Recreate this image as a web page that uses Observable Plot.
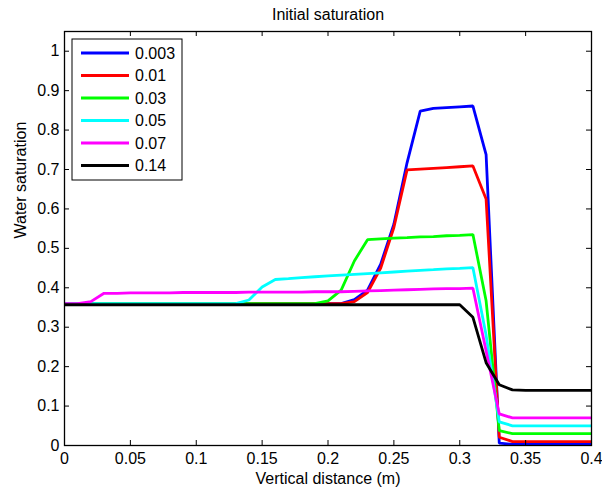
<!DOCTYPE html>
<html>
<head>
<meta charset="utf-8">
<script src="https://cdn.jsdelivr.net/npm/d3@7"></script>
<script src="https://cdn.jsdelivr.net/npm/@observablehq/plot@0.6"></script>
<style>
  html, body { margin: 0; padding: 0; background: #fff; }
</style>
</head>
<body>
<div id="chart"></div>
<script>
const distance = [0.00,0.01,0.02,0.03,0.04,0.05,0.06,0.07,0.08,0.09,0.10,0.11,0.12,0.13,0.14,0.15,0.16,0.17,0.18,0.19,0.20,0.21,0.22,0.23,0.24,0.25,0.26,0.27,0.28,0.29,0.30,0.31,0.32,0.33,0.34,0.35,0.36,0.37,0.38,0.39,0.40];

const seriesNames = ["0.003", "0.01", "0.03", "0.05", "0.07", "0.14"];
const seriesColors = ["#0000ff", "#ff0000", "#00ff00", "#00ffff", "#ff00ff", "#000000"];

const s0003 = [0.36,0.36,0.36,0.36,0.36,0.36,0.36,0.36,0.36,0.36,0.36,0.36,0.36,0.36,0.36,0.36,0.36,0.36,0.36,0.36,0.36,0.36,0.37,0.394,0.46,0.561,0.717,0.848,0.855,0.857,0.859,0.861,0.738,0.006,0.003,0.003,0.003,0.003,0.003,0.003,0.003];
const s001 = [0.36,0.36,0.36,0.36,0.36,0.36,0.36,0.36,0.36,0.36,0.36,0.36,0.36,0.36,0.36,0.36,0.36,0.36,0.36,0.36,0.36,0.36,0.365,0.388,0.45,0.553,0.699,0.701,0.703,0.705,0.707,0.709,0.625,0.021,0.01,0.01,0.01,0.01,0.01,0.01,0.01];
const s003 = [0.36,0.36,0.36,0.36,0.36,0.36,0.36,0.36,0.36,0.36,0.36,0.36,0.36,0.36,0.36,0.36,0.36,0.36,0.36,0.36,0.367,0.394,0.468,0.522,0.524,0.526,0.527,0.529,0.530,0.532,0.533,0.535,0.367,0.038,0.03,0.03,0.03,0.03,0.03,0.03,0.03];
const s005 = [0.36,0.36,0.36,0.36,0.36,0.36,0.36,0.36,0.36,0.36,0.36,0.36,0.36,0.36,0.369,0.402,0.421,0.423,0.426,0.428,0.430,0.432,0.434,0.436,0.438,0.440,0.442,0.444,0.446,0.448,0.449,0.451,0.28,0.06,0.05,0.05,0.05,0.05,0.05,0.05,0.05];
const s007 = [0.36,0.36,0.365,0.386,0.386,0.387,0.387,0.387,0.387,0.388,0.388,0.388,0.388,0.388,0.389,0.389,0.389,0.389,0.389,0.390,0.390,0.390,0.391,0.392,0.393,0.394,0.395,0.396,0.397,0.398,0.398,0.399,0.24,0.08,0.07,0.07,0.07,0.07,0.07,0.07,0.07];
const s014 = [0.357,0.357,0.357,0.357,0.357,0.357,0.357,0.357,0.357,0.357,0.357,0.357,0.357,0.357,0.357,0.357,0.357,0.357,0.357,0.357,0.357,0.357,0.357,0.357,0.357,0.357,0.357,0.357,0.357,0.357,0.357,0.325,0.21,0.154,0.141,0.14,0.14,0.14,0.14,0.14,0.14];

const xTicks = [0,0.05,0.1,0.15,0.2,0.25,0.3,0.35,0.4];
const yTicks = [0,0.1,0.2,0.3,0.4,0.5,0.6,0.7,0.8,0.9,1];

const titleText = "Initial saturation";
const xLabel = "Vertical distance (m)";
const yLabel = "Water saturation";

const allSeries = [s0003, s001, s003, s005, s007, s014];
const rows = [];
allSeries.forEach((vals, k) => {
  vals.forEach((v, i) => rows.push({x: distance[i], y: v, s: seriesNames[k]}));
});

const W = 602, H = 493;
const mL = 64, mR = 11, mT = 31, mB = 48;
const fw = W - mL - mR, fh = H - mT - mB;
const tick = 5;
const font = "'Liberation Sans', Arial, Helvetica, sans-serif";
const fs = 16;
const fmt = d => String(+d.toFixed(2));

const plot = Plot.plot({
  width: W,
  height: H,
  marginLeft: mL,
  marginRight: mR,
  marginTop: mT,
  marginBottom: mB,
  style: {fontFamily: font, fontSize: fs + "px", color: "#000", background: "#fff"},
  x: {domain: [0, 0.4]},
  y: {domain: [0, 1.05]},
  color: {domain: seriesNames, range: seriesColors},
  marks: [
    Plot.line(rows, {x: "x", y: "y", z: "s", stroke: "s", strokeWidth: 2.8, strokeLinejoin: "miter", strokeLinecap: "butt"}),
    Plot.tickX(xTicks, {x: d => d, insetTop: fh - tick, stroke: "#000", strokeWidth: 1}),
    Plot.tickX(xTicks, {x: d => d, insetBottom: fh - tick, stroke: "#000", strokeWidth: 1}),
    Plot.tickY(yTicks, {y: d => d, insetRight: fw - tick, stroke: "#000", strokeWidth: 1}),
    Plot.tickY(yTicks, {y: d => d, insetLeft: fw - tick, stroke: "#000", strokeWidth: 1}),
    Plot.frame({stroke: "#000", strokeWidth: 1.3}),
    Plot.axisX(xTicks, {anchor: "bottom", tickSize: 0, tickPadding: 7, tickFormat: fmt, label: null, fontSize: fs}),
    Plot.axisY(yTicks, {anchor: "left", tickSize: 0, tickPadding: 5, tickFormat: fmt, label: null, fontSize: fs}),
    Plot.text([titleText], {text: d => d, frameAnchor: "top", dy: -12, lineAnchor: "bottom", fontSize: fs, fill: "#000"}),
    Plot.text([xLabel], {text: d => d, frameAnchor: "bottom", dy: 38, lineAnchor: "bottom", fontSize: fs, fill: "#000"}),
    Plot.text([yLabel], {text: d => d, frameAnchor: "left", dx: -44, rotate: -90, lineAnchor: "middle", fontSize: fs, fill: "#000"})
  ]
});

// Legend box (top-left inside the plot)
const svg = d3.select(plot);
const lg = svg.append("g").attr("font-family", font).attr("font-size", fs).attr("text-anchor", "start");
const lx = 72, ly = 39, lw = 110, lh = 141, rowH = 22.5;
lg.append("rect").attr("x", lx).attr("y", ly).attr("width", lw).attr("height", lh)
  .attr("fill", "#fff").attr("stroke", "#000").attr("stroke-width", 1);
seriesNames.forEach((name, i) => {
  const yy = ly + 14 + i * rowH;
  lg.append("line").attr("x1", lx + 9).attr("x2", lx + 57).attr("y1", yy).attr("y2", yy)
    .attr("stroke", seriesColors[i]).attr("stroke-width", 2.8);
  lg.append("text").attr("x", lx + 63).attr("y", yy).attr("dy", "0.36em")
    .attr("text-anchor", "start").attr("fill", "#000").text(name);
});

document.getElementById("chart").appendChild(plot);
</script>
</body>
</html>
